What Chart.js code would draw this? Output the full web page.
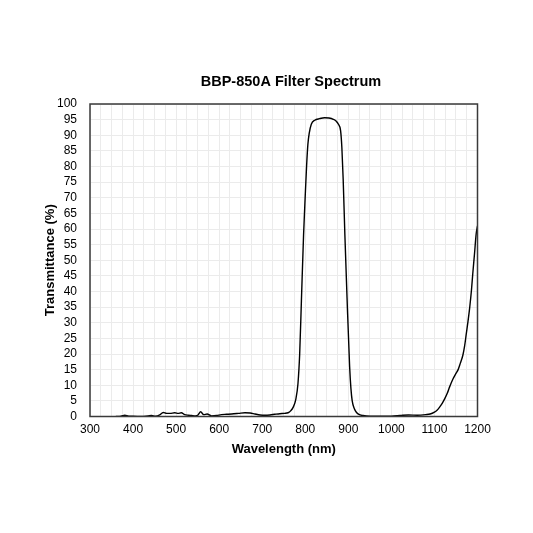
<!DOCTYPE html>
<html>
<head>
<meta charset="utf-8">
<script src="https://cdn.jsdelivr.net/npm/chart.js@4"></script>
<style>
  html, body { margin: 0; padding: 0; background: #fff; }
  canvas { display: block; }
</style>
</head>
<body>
<canvas id="spectrum" width="533" height="533"></canvas>
<script>
// wavelength (nm) and transmittance (%)
const wavelengths = [
  360, 372, 381, 390, 400, 420, 435, 443, 452, 462, 470, 478, 486, 497, 505, 512,
  520, 528, 536, 545, 551, 557, 564, 572, 582, 594, 605, 617, 629, 645, 660, 672,
  683, 695, 706, 718, 729, 741, 752, 760, 766, 772, 778, 783, 787, 791, 796, 800,
  803, 806, 809, 814, 822, 833, 845, 855, 865, 872, 877, 882, 885, 888, 892, 897,
  903, 906, 909, 914, 919, 926, 934, 950, 1000, 1020, 1040, 1060, 1080, 1090, 1100,
  1106, 1112, 1118, 1124, 1130, 1135, 1143, 1150, 1155, 1160, 1166, 1170, 1174,
  1178, 1182, 1186, 1189, 1193, 1197, 1200
];
const transmittance = [
  0, 0.1, 0.4, 0.1, 0.1, 0, 0.2, 0.3, 0.1, 0.5, 1.3, 1.0, 1.0, 1.2, 1.0, 1.2,
  0.6, 0.4, 0.3, 0.2, 0.5, 1.5, 0.6, 0.8, 0.2, 0.3, 0.6, 0.7, 0.8, 1.0, 1.2, 1.1,
  0.8, 0.5, 0.4, 0.5, 0.7, 0.9, 1.0, 1.2, 1.8, 3.0, 5.5, 10.5, 20, 37, 58, 71,
  80, 87, 90.5, 93.5, 94.8, 95.3, 95.6, 95.5, 95.1, 94.5, 93.5, 91.5, 86, 76, 58, 38,
  16, 9, 5, 2.5, 1.3, 0.6, 0.3, 0.1, 0.1, 0.3, 0.5, 0.4, 0.6, 0.8, 1.4,
  2, 3, 4.2, 5.7, 7.5, 9.4, 12, 13.8, 15, 17, 19.6, 22.5, 26.5,
  30.5, 35, 40.5, 45.7, 52, 58.5, 61
];
const xRange = [300, 1200];
const yRange = [0, 100];
const chartTitle = "BBP-850A Filter Spectrum";

const points = wavelengths.map((w, i) => ({ x: w, y: transmittance[i] }));
const FONT = "'Liberation Sans', Arial, sans-serif";

// dark frame round the plot area and the title, which sits a bit right of centre
const frame = {
  id: "frame",
  afterDraw(chart) {
    const { ctx, chartArea: a } = chart;
    ctx.save();
    ctx.strokeStyle = "#3a3a3a";
    ctx.lineWidth = 1.5;
    ctx.strokeRect(a.left, a.top, a.right - a.left, a.bottom - a.top);
    ctx.fillStyle = "#000";
    ctx.font = "bold 14.5px " + FONT;
    ctx.textAlign = "center";
    ctx.textBaseline = "middle";
    ctx.fillText(chartTitle, 291, 82);
    ctx.restore();
  }
};

const ctx = document.getElementById("spectrum").getContext("2d");
new Chart(ctx, {
  type: "line",
  data: {
    datasets: [{
      data: points,
      borderColor: "#000",
      borderWidth: 1.4,
      pointRadius: 0,
      fill: false,
      cubicInterpolationMode: "monotone",
    }],
  },
  options: {
    responsive: false,
    animation: false,
    events: [],
    layout: { padding: { left: 0, right: 55.5, top: 104, bottom: 56.5 } },
    plugins: {
      legend: { display: false },
      tooltip: { enabled: false },
      title: { display: false },
    },
    scales: {
      x: {
        type: "linear",
        min: xRange[0],
        max: xRange[1],
        afterFit: (s) => { s.height = 60; },
        border: { display: false },
        grid: { color: "#ebebeb", lineWidth: 1, drawTicks: false },
        ticks: {
          stepSize: 25,
          autoSkip: false,
          maxRotation: 0,
          padding: 6.3,
          color: "#000",
          font: { family: FONT, size: 12 },
          callback: (v) => (v % 100 === 0 ? v : ""),
        },
        title: {
          display: true,
          text: "Wavelength (nm)",
          color: "#000",
          font: { family: FONT, size: 13, weight: "bold" },
          padding: { top: 0, bottom: 19.7 },
        },
      },
      y: {
        min: yRange[0],
        max: yRange[1],
        afterFit: (s) => { s.width = 90; },
        border: { display: false },
        grid: { color: "#ebebeb", lineWidth: 1, drawTicks: false },
        ticks: {
          stepSize: 5,
          autoSkip: false,
          padding: 13,
          color: "#000",
          font: { family: FONT, size: 12 },
        },
        title: {
          display: true,
          text: "Transmittance (%)",
          color: "#000",
          font: { family: FONT, size: 13, weight: "bold" },
          padding: { top: 42.2, bottom: 0 },
        },
      },
    },
  },
  plugins: [frame],
});
</script>
</body>
</html>
